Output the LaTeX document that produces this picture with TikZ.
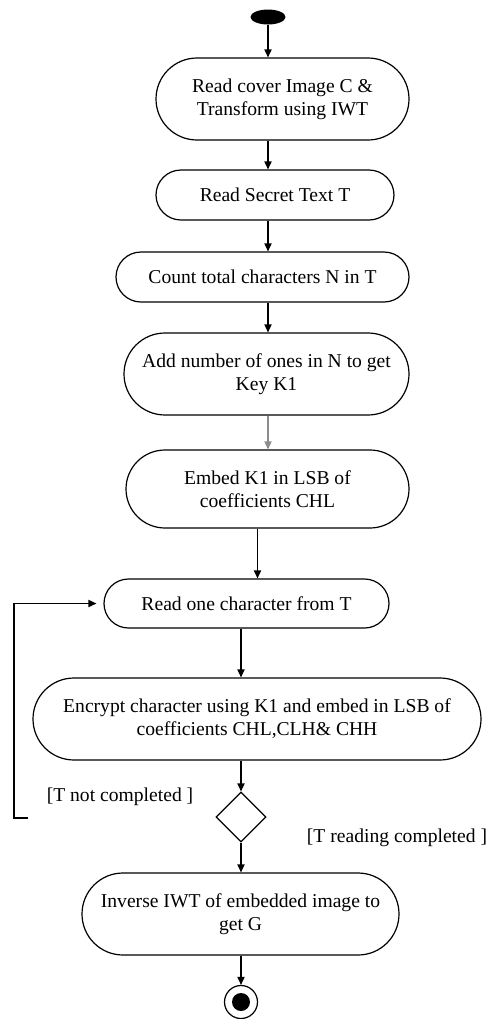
\documentclass[tikz,border=0pt]{standalone}
\usepackage{fontspec}
\setmainfont{Liberation Serif}
\usetikzlibrary{shapes.misc,shapes.geometric,arrows.meta}

\begin{document}
\begin{tikzpicture}[
 x=0.5pt,y=-0.5pt,
 every node/.style={font=\fontsize{9.8}{11.5}\selectfont},
 activity/.style={draw,rounded rectangle,align=center,inner sep=2pt,line width=0.6pt},
 flow/.style={-{Triangle[length=4pt,width=3.6pt]},line width=0.6pt},
 guard/.style={inner sep=1pt}
]
 \useasboundingbox (0,0) rectangle (490,1019);

 % initial and final states
 \node[ellipse,fill=black,minimum width=17.5pt,minimum height=7.5pt,inner sep=0pt]
  (start) at (268,17) {};
 \node[circle,draw,line width=0.6pt,minimum size=16.5pt,inner sep=0pt] (stop) at (241,1002) {};
 \node[circle,fill=black,minimum size=9pt,inner sep=0pt] (stopdot) at (stop) {};

 % activities, placed at schematic coordinates
 \node[activity,minimum width=130.5pt,minimum height=41pt] (cover) at (282.5,99)
  {Read cover Image C \&\\Transform using IWT};
 \node[activity,minimum width=123pt,minimum height=25pt] (secret) at (275,195)
  {Read Secret Text T};
 \node[activity,minimum width=150.5pt,minimum height=25pt] (count) at (262.5,277)
  {Count total characters N in T};
 \node[activity,minimum width=146.5pt,minimum height=41pt] (key) at (266.5,374)
  {Add number of ones in N to get\\Key K1};
 \node[activity,minimum width=145.5pt,minimum height=39pt] (embedkey) at (267.5,489)
  {Embed K1 in LSB of\\coefficients CHL};
 \node[activity,minimum width=146.5pt,minimum height=24.5pt] (readchar) at (246.5,603.5)
  {Read one character from T};
 \node[activity,minimum width=228pt,minimum height=41pt] (encrypt) at (257,719)
  {Encrypt character using K1 and embed in LSB of\\coefficients CHL,CLH\& CHH};
 \node[diamond,draw,line width=0.6pt,shape aspect=1,minimum size=25pt,inner sep=0pt]
  (check) at (241,817) {};
 \node[activity,minimum width=162.5pt,minimum height=41pt] (inverse) at (240.5,914)
  {Inverse IWT of embedded image to\\get G};

 % guards
 \node[guard] (notdone) at (120,797) {[T not completed ]};
 \node[guard] (done) at (397,838) {[T reading completed ]};

 % main flow
 \draw[flow] (start) -- (start |- cover.north);
 \draw[flow] (cover.south -| start) -- (start |- secret.north);
 \draw[flow] (secret.south -| start) -- (start |- count.north);
 \draw[flow] (count.south -| start) -- (start |- key.north);
 \draw[flow,black!45] (key.south -| start) -- (start |- embedkey.north);
 \draw[flow] ([xshift=-5pt]embedkey.south) -- ([xshift=-5pt]embedkey.south |- readchar.north);
 \draw[flow] (readchar.south -| check) -- (check |- encrypt.north);
 \draw[flow] (encrypt.south -| check) -- (check.north);
 \draw[flow] (check.south) -- (check |- inverse.north);
 \draw[flow] (inverse.south -| check) -- (stop.north);

 % loop back (left open next to the decision)
 \coordinate (back) at (28,818);
 \draw[flow,shorten >=3.5pt] (back) -- ++(-14,0) |- (readchar.west);
\end{tikzpicture}
\end{document}
